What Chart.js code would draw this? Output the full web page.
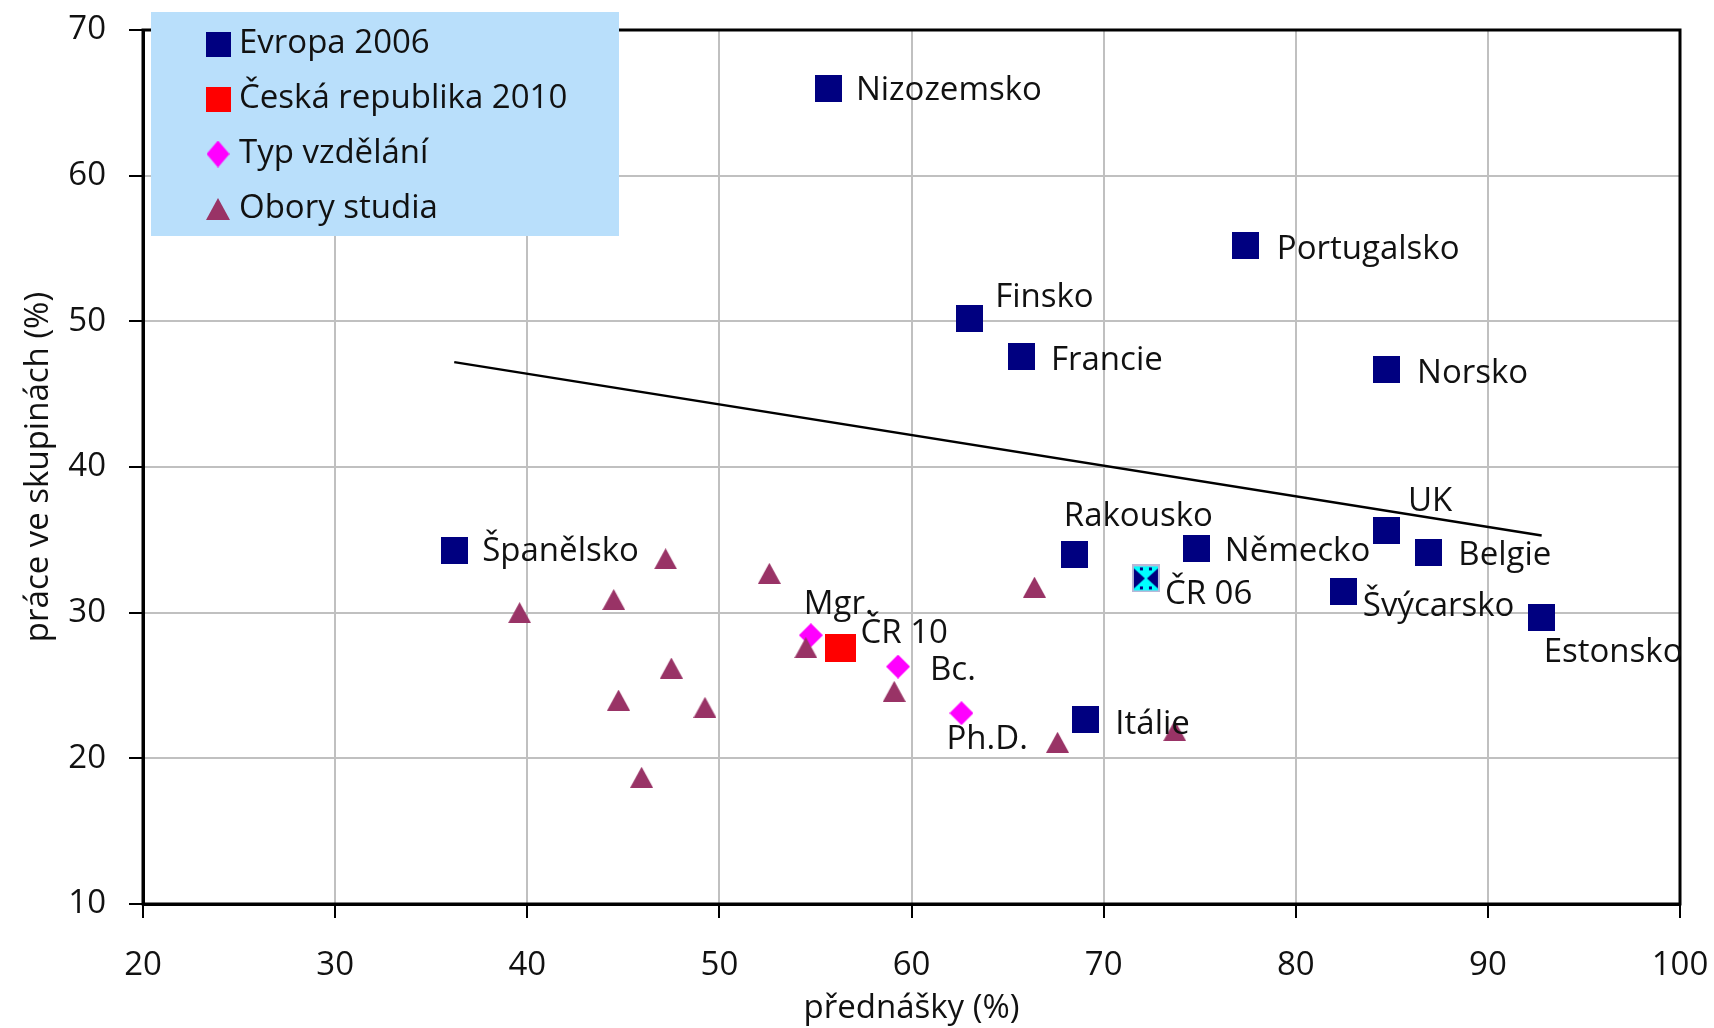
<!DOCTYPE html>
<html>
<head>
<meta charset="utf-8">
<script src="https://cdn.jsdelivr.net/npm/chart.js@4/dist/chart.umd.min.js"></script>
<style>
  html, body { margin: 0; padding: 0; background: #fff; }
  #wrap { width: 1714px; height: 1028px; }
</style>
</head>
<body>
<div id="wrap"><canvas id="chart" width="1714" height="1028"></canvas></div>
<script>
// Evropa 2006
var euroNames = ["Nizozemsko", "Portugalsko", "Finsko", "Francie", "Norsko", "UK", "Belgie", "Rakousko", "Německo", "Švýcarsko", "Estonsko", "Itálie", "Španělsko", "ČR 06"];
var euroX = [55.7, 77.4, 63.0, 65.7, 84.7, 84.7, 86.9, 68.5, 74.85, 82.5, 92.8, 69.05, 36.2, 72.2];
var euroY = [66.0, 55.2, 50.2, 47.6, 46.7, 35.65, 34.1, 34.0, 34.4, 31.45, 29.7, 22.7, 34.3, 32.35];

// Česká republika 2010
var czNames = ["ČR 10"];
var czX = [56.3];
var czY = [27.6];

// Typ vzdělání
var typNames = ["Mgr.", "Bc.", "Ph.D."];
var typX = [54.76, 59.3, 62.6];
var typY = [28.45, 26.3, 23.1];

// Obory studia
var oborX = [47.2, 39.6, 44.5, 52.6, 47.5, 44.75, 49.25, 45.95, 54.5, 59.1, 66.4, 67.6, 73.7];
var oborY = [33.7, 30.0, 30.9, 32.7, 26.2, 24.0, 23.5, 18.7, 27.6, 24.6, 31.75, 21.1, 21.9];

// trend line end points
var trendX = [36.2, 92.8];
var trendY = [47.2, 35.3];

var xTicks = [20, 30, 40, 50, 60, 70, 80, 90, 100];
var yTicks = [10, 20, 30, 40, 50, 60, 70];

// label offsets in px (text left edge / middle relative to the point)
var labelOffsets = {
  "Nizozemsko": [27, 2], "Portugalsko": [31, 4], "Finsko": [26, -21], "Francie": [30, 4],
  "Norsko": [31, 4], "UK": [22, -29], "Belgie": [30, 3], "Rakousko": [-11, -38],
  "Německo": [28, 3], "Švýcarsko": [19, 15], "Estonsko": [2, 36], "Itálie": [30, 6],
  "Španělsko": [28, 2], "ČR 06": [19, 16], "ČR 10": [20, -14], "Mgr.": [-7, -31],
  "Bc.": [32, 4], "Ph.D.": [-15, 26]
};

var FONT = "'Open Sans', 'Noto Sans', sans-serif";
var TXT = "#111";

function toPoints(xs, ys) {
  var out = [];
  for (var i = 0; i < xs.length; i++) out.push({x: xs[i], y: ys[i]});
  return out;
}

function marker(shape, w, h, fill) {
  var c = document.createElement("canvas");
  c.width = w; c.height = h;
  var g = c.getContext("2d");
  g.fillStyle = fill;
  if (shape === "rect") {
    g.fillRect(0, 0, w, h);
  } else if (shape === "diamond") {
    g.beginPath();
    g.moveTo(w / 2, 0); g.lineTo(w, h / 2); g.lineTo(w / 2, h); g.lineTo(0, h / 2);
    g.closePath(); g.fill();
  } else if (shape === "triangle") {
    g.beginPath();
    g.moveTo(w / 2, 0); g.lineTo(w, h); g.lineTo(0, h);
    g.closePath(); g.fill();
  } else if (shape === "cr06") {
    // cyan square with navy wedges left and right
    g.fillStyle = "#b8b8d8";
    g.fillRect(0, 0, w, h);
    g.fillStyle = "#00ffff";
    g.fillRect(2, 2, w - 4, h - 4);
    g.fillStyle = "#000080";
    g.beginPath();
    g.moveTo(2, 4); g.lineTo(w / 2 - 1, h / 2); g.lineTo(2, h - 4);
    g.closePath(); g.fill();
    g.beginPath();
    g.moveTo(w - 2, 4); g.lineTo(w / 2 + 1, h / 2); g.lineTo(w - 2, h - 4);
    g.closePath(); g.fill();
    g.fillRect(8, 3, 3, 3); g.fillRect(w - 11, 3, 3, 3);
    g.fillRect(8, h - 6, 3, 3); g.fillRect(w - 11, h - 6, 3, 3);
  }
  return c;
}

var navySq = marker("rect", 27, 27, "#000080");
var cr06Sq = marker("cr06", 28, 28, "");
var redSq = marker("rect", 31, 28, "#ff0000");
var magDia = marker("diamond", 24, 24, "#ff00ff");
var tri = marker("triangle", 23, 21, "#993366");

var legendItems = [
  {text: "Evropa 2006", img: marker("rect", 25, 25, "#000080")},
  {text: "Česká republika 2010", img: marker("rect", 25, 25, "#ff0000")},
  {text: "Typ vzdělání", img: marker("diamond", 23, 27, "#ff00ff")},
  {text: "Obory studia", img: marker("triangle", 24, 22, "#993366")}
];

var frame = {
  id: "frame",
  beforeDatasetsDraw: function(chart) {
    var a = chart.chartArea, ctx = chart.ctx;
    ctx.save();
    ctx.strokeStyle = "#000";
    ctx.lineWidth = 3;
    ctx.strokeRect(a.left, a.top, a.right - a.left, a.bottom - a.top);
    ctx.restore();
  }
};

var pointLabels = {
  id: "pointLabels",
  afterDatasetsDraw: function(chart) {
    var ctx = chart.ctx;
    ctx.save();
    ctx.font = "33px " + FONT;
    ctx.fillStyle = TXT;
    ctx.textAlign = "left";
    ctx.textBaseline = "middle";
    chart.data.datasets.forEach(function(ds, di) {
      if (!ds.names) return;
      var meta = chart.getDatasetMeta(di);
      meta.data.forEach(function(pt, i) {
        var name = ds.names[i];
        var off = labelOffsets[name] || [25, 0];
        ctx.fillText(name, pt.x + off[0], pt.y + off[1]);
      });
    });
    ctx.restore();
  }
};

var boxLegend = {
  id: "boxLegend",
  afterDraw: function(chart) {
    var ctx = chart.ctx;
    ctx.save();
    ctx.fillStyle = "#b9dffb";
    ctx.fillRect(151, 12, 468, 224);
    ctx.font = "33px " + FONT;
    ctx.fillStyle = TXT;
    ctx.textAlign = "left";
    ctx.textBaseline = "middle";
    for (var i = 0; i < legendItems.length; i++) {
      var y = 44 + i * 55;
      var im = legendItems[i].img;
      ctx.drawImage(im, 218 - im.width / 2, y - im.height / 2);
      ctx.fillText(legendItems[i].text, 239, y);
    }
    ctx.restore();
  }
};

var ctx = document.getElementById("chart").getContext("2d");

var myChart = new Chart(ctx, {
  type: "scatter",
  data: {
    datasets: [
      {
        label: "Obory studia",
        data: toPoints(oborX, oborY),
        pointStyle: tri,
        order: 1
      },
      {
        label: "Typ vzdělání",
        names: typNames,
        data: toPoints(typX, typY),
        pointStyle: magDia,
        order: 2
      },
      {
        label: "Česká republika 2010",
        names: czNames,
        data: toPoints(czX, czY),
        pointStyle: redSq,
        order: 3
      },
      {
        label: "Evropa 2006",
        names: euroNames,
        data: toPoints(euroX, euroY),
        pointStyle: function(c) {
          return euroNames[c.dataIndex] === "ČR 06" ? cr06Sq : navySq;
        },
        order: 4
      },
      {
        type: "line",
        label: "trend",
        data: toPoints(trendX, trendY),
        borderColor: "#000",
        borderWidth: 2.5,
        pointRadius: 0,
        fill: false,
        order: 5
      }
    ]
  },
  options: {
    responsive: false,
    animation: false,
    events: [],
    layout: { padding: { left: 0, top: 30, right: 34, bottom: 0 } },
    plugins: {
      legend: { display: false },
      tooltip: { enabled: false }
    },
    scales: {
      x: {
        type: "linear",
        min: xTicks[0],
        max: xTicks[xTicks.length - 1],
        afterFit: function(s) {
          s.height = 124;
          s.paddingLeft = 0; s.paddingRight = 0;
        },
        afterBuildTicks: function(s) { s.ticks = xTicks.map(function(v) { return {value: v}; }); },
        ticks: { font: { family: FONT, size: 33 }, color: TXT, padding: 28, maxRotation: 0 },
        grid: { color: "#c0c0c0", lineWidth: 2, tickColor: "#000", tickLength: 14, tickWidth: 2 },
        border: { color: "#000", width: 3 },
        title: { display: true, text: "přednášky (%)", font: { family: FONT, size: 33 }, color: TXT, padding: { top: 0, bottom: 0 } }
      },
      y: {
        type: "linear",
        min: yTicks[0],
        max: yTicks[yTicks.length - 1],
        afterFit: function(s) {
          s.width = 143;
          s.paddingTop = 0; s.paddingBottom = 0;
        },
        afterBuildTicks: function(s) { s.ticks = yTicks.map(function(v) { return {value: v}; }); },
        ticks: { font: { family: FONT, size: 33 }, color: TXT, padding: 23 },
        grid: { color: "#c0c0c0", lineWidth: 2, tickColor: "#000", tickLength: 14, tickWidth: 2 },
        border: { color: "#000", width: 3 },
        title: { display: true, text: "práce ve skupinách (%)", font: { family: FONT, size: 33 }, color: TXT, padding: { top: 19, bottom: 0 } }
      }
    }
  },
  plugins: [frame, pointLabels, boxLegend]
});
</script>
</body>
</html>
